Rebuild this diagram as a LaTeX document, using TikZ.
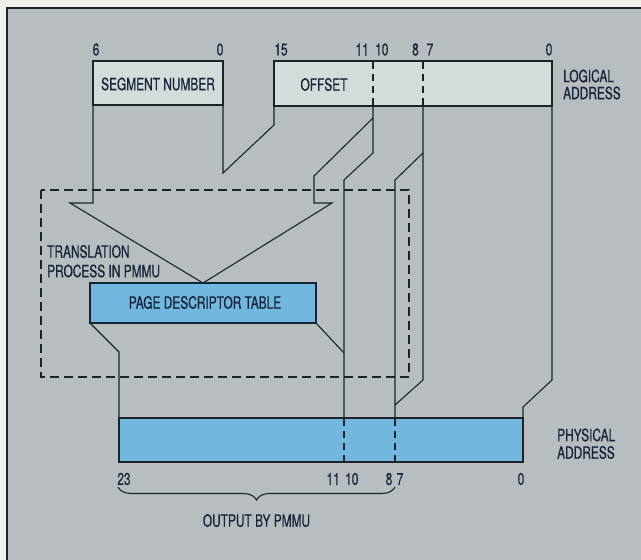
\documentclass[tikz,border=0pt]{standalone}
\usepackage{fontspec}
\setmainfont{TeX Gyre Heros}[FakeStretch=0.7,FakeBold=0.6]
\usetikzlibrary{decorations.pathreplacing}
\definecolor{paper}{HTML}{EEF0EC}
\definecolor{bg}{HTML}{B8BEC0}
\definecolor{lightbox}{HTML}{D4DBDB}
\definecolor{bluebox}{HTML}{72B7DE}
\definecolor{ink}{HTML}{1B2328}
\definecolor{txt}{HTML}{16243A}
\tikzset{
  lbl/.style={font=\fontsize{17}{20}\selectfont, text=txt, inner sep=0pt},
  regbox/.style={draw=ink, line width=2.6pt, inner sep=0pt, outer sep=0pt},
  wire/.style={draw=ink, line width=1.1pt, line join=miter},
  bitsep/.style={draw=ink, line width=1.1pt, dash pattern=on 7pt off 5pt},
  procbox/.style={draw=ink, line width=1.1pt, dash pattern=on 9pt off 5pt}
}
\begin{document}
\begin{tikzpicture}[x=1pt,y=-1pt]
\useasboundingbox (0,0) rectangle (641,560);
\fill[paper] (0,0) rectangle (641,560);
\fill[bg] (7,8) rectangle (641,560);
\draw[ink, line width=2.6pt] (7,560) -- (7,8) -- (641,8);

% dashed translation process box
\draw[procbox] (41,190) rectangle (409,377);

% connectors
\coordinate (b11) at (373,106);
\coordinate (b11k) at (373,118);
\coordinate (b10k) at (373,153);
\coordinate (b8) at (423,106);
\coordinate (b8k) at (423,153);
\coordinate (apex) at (203,283);
\draw[wire] (93,105) -- (93,203) -- (70,203) -- (apex);
\draw[wire] (b11) -- (b11k) -- (314,176) -- (314,203) -- (332,203) -- (apex);
\draw[wire] (223,105) -- (223,173) -- (274,125) -- (274,106);
\draw[wire] (b11k) -- (b10k) -- (344,180) -- (344,418);
\draw[wire] (316,323) -- (344,353);
\draw[wire] (90,323) -- (119,352) -- (119,418);
\draw[wire] (b8) -- (b8k) -- (395,180) -- (395,418);
\draw[wire] (b8k) -- (423,380) -- (395,405);
\draw[wire] (552,106) -- (552,380) -- (523,407) -- (523,418);

% registers
\node[regbox, fill=lightbox, minimum width=130pt, minimum height=44pt] (seg) at (158,83) {};
\node[regbox, fill=lightbox, minimum width=278pt, minimum height=45pt] (off) at (413,83.5) {};
\node[regbox, draw=txt, fill=bluebox, minimum width=226pt, minimum height=40pt] (pdt) at (203,303) {};
\node[regbox, fill=bluebox, minimum width=404pt, minimum height=44pt] (phys) at (321,440) {};

\draw[bitsep] (373,62) -- (373,105);
\draw[bitsep] (423,62) -- (423,105);
\draw[bitsep] (344,419) -- (344,461);
\draw[bitsep] (395,419) -- (395,461);

% labels
\node[lbl] (t6) at (96,49.5) {6};
\node[lbl] (t0a) at (220,49.5) {0};
\node[lbl] (t15) at (281,49.5) {15};
\node[lbl, anchor=east] (t11) at (369,49.5) {11};
\node[lbl, anchor=west] (t10) at (375,49.5) {10};
\node[lbl] (t8) at (415.5,49.5) {8};
\node[lbl] (t7) at (430,49.5) {7};
\node[lbl] (t0b) at (549,49.5) {0};
\node[lbl] (segt) at (158,84) {SEGMENT NUMBER};
\node[lbl] (offt) at (324,84.5) {OFFSET};
\node[lbl, anchor=west] (logA) at (563,76) {LOGICAL};
\node[lbl, anchor=west] (logB) at (563,93) {ADDRESS};
\node[lbl, anchor=west] (trA) at (47,251.5) {TRANSLATION};
\node[lbl, anchor=west] (trB) at (47,271) {PROCESS IN PMMU};
\node[lbl] (pdtt) at (205,302.5) {PAGE DESCRIPTOR TABLE};
\node[lbl, anchor=west] (phA) at (557,435) {PHYSICAL};
\node[lbl, anchor=west] (phB) at (557,452.5) {ADDRESS};
\node[lbl] (p23) at (124,479) {23};
\node[lbl, anchor=east] (p11) at (340,479) {11};
\node[lbl, anchor=west] (p10) at (345,479) {10};
\node[lbl] (p8) at (389,479) {8};
\node[lbl] (p7) at (400,479) {7};
\node[lbl] (p0) at (521,479) {0};
\draw[ink, line width=1.1pt, decorate, decoration={brace, mirror, amplitude=13pt}] (118,487) -- (395,487);
\node[lbl] (outt) at (256.5,520.5) {OUTPUT BY PMMU};
\end{tikzpicture}
\end{document}
